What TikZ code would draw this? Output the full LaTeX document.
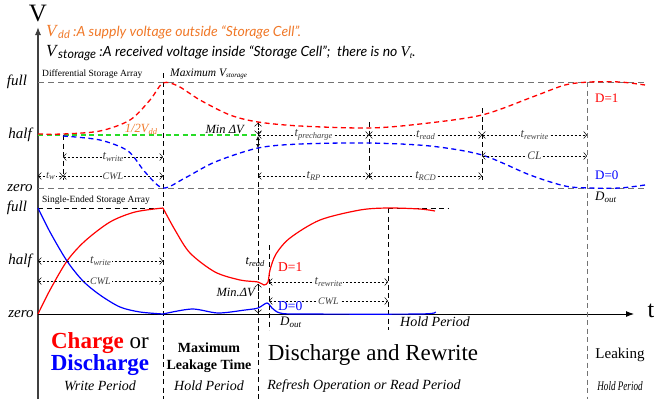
\documentclass[tikz,border=0pt]{standalone}
\usepackage{fontspec}
\setmainfont{Liberation Serif}
\newfontfamily\notefont{Lato}
\usetikzlibrary{arrows.meta}

\definecolor{vddorange}{RGB}{240,120,40}
\definecolor{levelgray}{RGB}{115,115,115}
\definecolor{halfgreen}{RGB}{40,220,40}

\newcommand{\fs}[1]{\fontsize{#1}{#1}\selectfont}
\newcommand{\lowsub}[2]{\raisebox{-0.35ex}{\fs{#1}#2}}
\newcommand{\tsub}[1]{t\lowsub{8.5}{#1}}

\tikzset{
    level/.style={levelgray, line width=1pt, dash pattern=on 6pt off 4pt},
    marker/.style={black, line width=0.6pt, dash pattern=on 5pt off 3.5pt},
    dimline/.style={black, line width=0.5pt, dash pattern=on 2.5pt off 1.5pt,
        {Straight Barb[length=3pt,width=7pt]}-{Straight Barb[length=3pt,width=7pt]}},
    dimtext/.style={fill=white, inner sep=0.8pt, font=\fs{12.5}\itshape, text=black!75},
    diffcurve/.style={line width=1.3pt, dash pattern=on 5pt off 3.5pt},
    sglcurve/.style={line width=1.2pt},
    lvltext/.style={font=\fs{15}\itshape},
    arraytext/.style={anchor=west, inner sep=0, font=\fs{9.5}},
    period/.style={font=\fs{14}\itshape},
}

\begin{document}
\begin{tikzpicture}[x=1pt, y=-1pt]
    \useasboundingbox (0,0) rectangle (664,399);

    % Time marks
    \coordinate (xo) at (38,0);
    \coordinate (xa) at (63,0);
    \coordinate (xb) at (163,0);
    \coordinate (xc) at (258,0);
    \coordinate (xd) at (369,0);
    \coordinate (xe) at (482,0);
    \coordinate (xf) at (587,0);
    \coordinate (xg) at (269,0);
    \coordinate (xh) at (388,0);

    % Axes
    \coordinate (vbot) at (38,399);
    \coordinate (vtop) at (38,27);
    \coordinate (tbeg) at (38,314);
    \coordinate (tend) at (634,314);
    \draw[black!75, line width=1.1pt, -{Latex[length=8pt,width=6pt]}] (vbot) -- (vtop);
    \draw[black, line width=0.9pt, -{Latex[length=8pt,width=6pt]}] (tbeg) -- (tend);
    \node[font=\fs{25}] (vlabel) at (38,14) {V};
    \node[font=\fs{24}] (tlabel) at (651,311) {t};

    % Notes
    \node[anchor=west, inner sep=0, text=vddorange] (vddnote) at (46,32)
        {\fs{17}\textit{V}\lowsub{11}{\notefont\itshape dd}\notefont\itshape\fs{14}\ :A supply voltage outside “Storage Cell”.};
    \node[anchor=west, inner sep=0] (vstnote) at (46,53)
        {\fs{17}\textit{V}\lowsub{12.5}{\notefont\itshape storage}\notefont\itshape\fs{14}\ :A received voltage inside “Storage Cell”;\ \ there is no {\rmfamily\fs{15}\textit{V}\lowsub{9}{t}}.};

    % Levels
    \node[lvltext] (full1) at (17,82) {full};
    \node[lvltext] (half1) at (20,135) {half};
    \node[lvltext] (zero1) at (20,188) {zero};
    \node[lvltext] (full2) at (17,208) {full};
    \node[lvltext] (half2) at (20,261) {half};
    \node[lvltext] (zero2) at (21,314) {zero};
    \draw[level] (38,82) -- (645,82);
    \draw[level] (38,188) -- (645,188);
    \draw[halfgreen, diffcurve] (38,135) -- (258,135);
    \draw[marker] (38,208) -- (163,208);
    \draw[marker] (388,208) -- (448,208);

    \node[arraytext] (diffarr) at (42,74) {Differential Storage Array};
    \node[arraytext] (sglarr) at (42,200) {Single-Ended Storage Array};
    \node[anchor=west, inner sep=0, font=\fs{11.5}\itshape] (maxv) at (170,74) {Maximum V\lowsub{7}{storage}};

    % Markers
    \draw[marker] (xa |- 0,135) -- (xa |- 0,180);
    \draw[marker] (xb |- 0,73) -- (xb |- 0,399);
    \draw[marker] (xc |- 0,122) -- (xc |- 0,399);
    \draw[marker] (xd |- 0,122) -- (xd |- 0,180);
    \draw[marker] (xe |- 0,108) -- (xe |- 0,180);
    \draw[marker, levelgray, line width=0.9pt] (xf |- 0,82) -- (xf |- 0,399);
    \draw[marker] (xg |- 0,245) -- (xg |- 0,330);
    \draw[marker] (xh |- 0,208) -- (xh |- 0,330);

    % Differential array
    \draw[red, diffcurve] plot[smooth] coordinates {(38,134) (63,134) (100,131) (130,120) (150,100) (163,83)
        (178,86) (200,100) (230,115) (258,122) (300,126) (369,128) (420,124) (482,115) (535,96) (565,85)
        (590,82) (620,82) (645,85)};
    \draw[blue, diffcurve] plot[smooth] coordinates {(63,136) (100,140) (128,151) (145,172) (163,188)
        (185,178) (215,162) (258,148) (300,144) (369,143) (430,146) (482,155) (530,175) (565,186)
        (590,188) (620,188) (645,185)};

    % Single-ended array
    \draw[red, sglcurve] plot[smooth] coordinates {(38,314) (50,290) (67,261) (85,241) (110,222) (135,212) (163,208)};
    \draw[red, sglcurve] plot[smooth] coordinates {(163,208) (175,230) (190,253) (215,272) (240,280) (258,282)
        (264,285) (268,282) (270,270) (276,254) (290,238) (320,220) (360,210) (388,208) (420,209) (435,211)};
    \draw[blue, sglcurve] plot[smooth] coordinates {(38,208) (50,232) (67,261) (83,281) (100,295) (120,307) (140,312) (163,314)};
    \draw[blue, sglcurve] plot[smooth] coordinates {(163,314) (192,309) (218,313) (245,310) (258,308) (267,303)
        (272,308) (280,313) (300,314) (420,314) (435,312)};

    % Timing
    \draw[dimline] (xo |- 0,176) -- node[dimtext, font=\fs{11}\itshape] (tw) {\tsub{w}} (xa |- 0,176);
    \draw[dimline] (xa |- 0,157) -- node[dimtext] (twrite1) {\tsub{write}} (xb |- 0,157);
    \draw[dimline] (xa |- 0,176) -- node[dimtext, font=\fs{10}\itshape] (cwl1) {CWL} (xb |- 0,176);
    \draw[dimline] (xc |- 0,135) -- node[dimtext] (tpre) {\tsub{precharge}} (xd |- 0,135);
    \draw[dimline] (xd |- 0,135) -- node[dimtext] (tread1) {\tsub{read}} (xe |- 0,135);
    \draw[dimline] (xe |- 0,135) -- node[dimtext] (trew1) {\tsub{rewrite}} (xf |- 0,135);
    \draw[dimline] (xe |- 0,156) -- node[dimtext, font=\fs{11.5}\itshape] (cl) {CL} (xf |- 0,156);
    \draw[dimline] (xc |- 0,176) -- node[dimtext] (trp) {\tsub{RP}} (xd |- 0,176);
    \draw[dimline] (xd |- 0,176) -- node[dimtext] (trcd) {\tsub{RCD}} (xe |- 0,176);
    \draw[dimline] (xo |- 0,261) -- node[dimtext] (twrite2) {\tsub{write}} (xb |- 0,261);
    \draw[dimline] (xo |- 0,281) -- node[dimtext, font=\fs{10}\itshape] (cwl2) {CWL} (xb |- 0,281);
    \draw[dimline] (xg |- 0,282) -- node[dimtext] (trew2) {\tsub{rewrite}} (xh |- 0,282);
    \draw[dimline] (xg |- 0,301) -- node[dimtext, font=\fs{10}\itshape] (cwl3) {CWL} (xh |- 0,301);

    % Min delta V
    \draw[dimline] (xc |- 0,123) -- (xc |- 0,134);
    \draw[black, line width=0.6pt, {Latex[length=4pt,width=4pt]}-{Latex[length=4pt,width=4pt]}] (xc |- 0,136) -- (xc |- 0,148);
    \draw[dimline] (xc |- 0,284) -- (xc |- 0,313);
    \node[anchor=east, inner sep=0, font=\fs{12.5}\itshape] (mindv1) at (244,129) {Min ΔV};
    \node[anchor=east, inner sep=0, font=\fs{12.5}\itshape] (mindv2) at (255,292) {Min.ΔV};
    \node[inner sep=0, font=\fs{12.5}\itshape, text=vddorange] (halfvdd) at (141,129) {1/2V\lowsub{8.5}{dd}};
    \node[inner sep=0, font=\fs{12.5}\itshape] (tread2) at (255,262) {\tsub{read}};

    % Data
    \node[anchor=west, inner sep=0, text=red, font=\fs{13}] (d1a) at (595,98) {D=1};
    \node[anchor=west, inner sep=0, text=blue, font=\fs{13}] (d0a) at (595,175) {D=0};
    \node[anchor=west, inner sep=0, font=\fs{13}\itshape] (douta) at (595,197) {D\lowsub{9}{out}};
    \node[anchor=west, inner sep=0, text=red, font=\fs{13.5}] (d1b) at (278,267) {D=1};
    \node[anchor=west, inner sep=0, text=blue, font=\fs{13.5}] (d0b) at (278,306) {D=0};
    \node[anchor=west, inner sep=0, font=\fs{13}\itshape] (doutb) at (280,322) {D\lowsub{9}{out}};
    \node[period] (hold1) at (435,322) {Hold Period};

    % Periods
    \node[font=\fs{23}] (chg) at (100,343) {\textcolor{red}{\textbf{Charge}} or};
    \node[font=\fs{23}\bfseries, text=blue] (dischg) at (100,365) {Discharge};
    \node[period] (wper) at (100,386) {Write Period};
    \node[font=\fs{14}\bfseries] (maxlk) at (209,348) {Maximum};
    \node[font=\fs{14}\bfseries] (lktime) at (209,366) {Leakage Time};
    \node[period] (hper) at (209,386) {Hold Period};
    \node[font=\fs{23}] (rewr) at (373,355) {Discharge and Rewrite};
    \node[period] (rper) at (364,386) {Refresh Operation or Read Period};
    \node[font=\fs{15}] (leak) at (620,355) {Leaking};
    \node[period, font=\fs{13}\itshape, xscale=0.7] (lper) at (620,386) {Hold Period};
\end{tikzpicture}
\end{document}
